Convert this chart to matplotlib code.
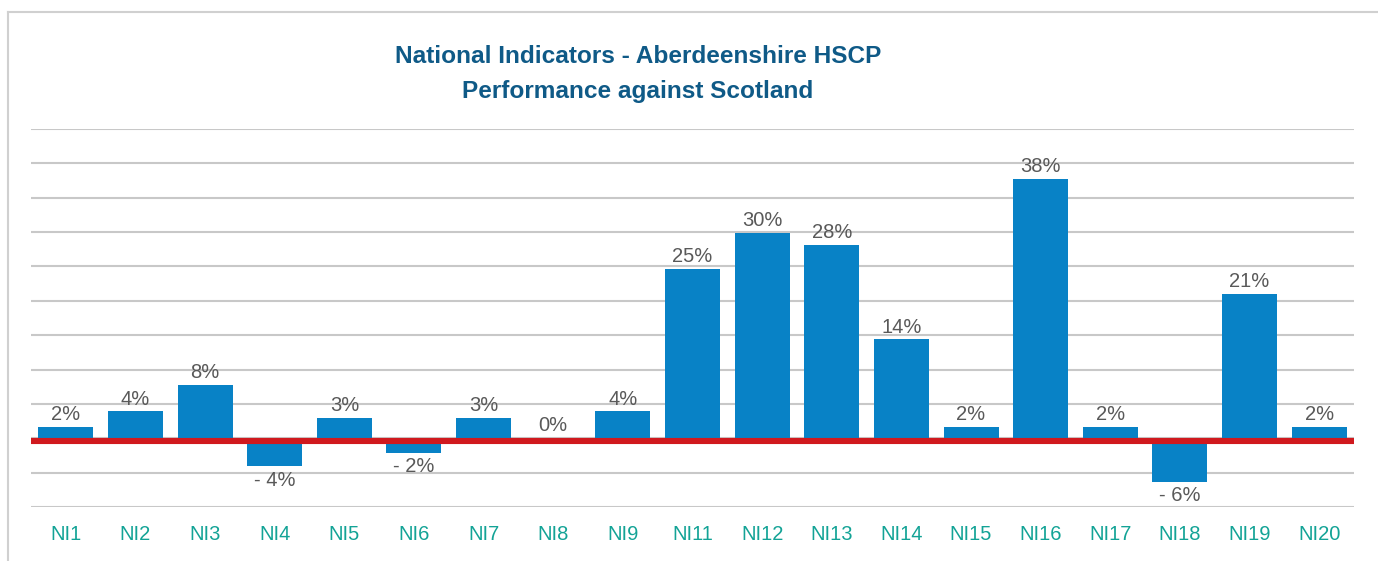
import matplotlib.pyplot as plt
import matplotlib.transforms as mtransforms
from matplotlib.lines import Line2D

plt.rcParams['font.family'] = ['Liberation Sans', 'DejaVu Sans']

categories = ['NI1', 'NI2', 'NI3', 'NI4', 'NI5', 'NI6', 'NI7', 'NI8', 'NI9', 'NI11',
              'NI12', 'NI13', 'NI14', 'NI15', 'NI16', 'NI17', 'NI18', 'NI19', 'NI20']
values = [1.7, 3.9, 7.8, -4.1, 3.0, -2.1, 3.0, 0.0, 3.9, 24.6,
          29.9, 28.1, 14.4, 1.7, 37.7, 1.7, -6.3, 21.0, 1.7]

bar_color = '#0882c6'
title_color = '#0f5a87'
tick_color = '#13a396'
label_color = '#595959'

fig = plt.figure(figsize=(13.78, 5.61), dpi=100)
ax = fig.add_axes([31 / 1378, 1 - 507 / 561, 1323 / 1378, 378 / 561])

x = range(len(categories))
bars = ax.bar(x, values, width=0.79, color=bar_color, zorder=2)

# red zero line, a little below the axis like the original
off = mtransforms.offset_copy(ax.transData, fig=fig, y=-3, units='dots')
ax.plot([-0.5, len(categories) - 0.5], [0, 0], color='#d0191e', lw=4.4,
        transform=off, zorder=3, solid_capstyle='butt')

for b, v in zip(bars, values):
    r = int(round(v))
    if r < 0:
        txt = '- %d%%' % abs(r)
        ax.annotate(txt, (b.get_x() + b.get_width() / 2, v), xytext=(0, -3),
                    textcoords='offset points', ha='center', va='top',
                    fontsize=14.5, color=label_color)
    else:
        txt = '%d%%' % r
        ax.annotate(txt, (b.get_x() + b.get_width() / 2, v), xytext=(0, 2),
                    textcoords='offset points', ha='center', va='bottom',
                    fontsize=14.5, color=label_color)

ax.set_xlim(-0.5, len(categories) - 0.5)
ax.set_ylim(-10, 45)
ax.set_yticks(range(-10, 46, 5))
ax.yaxis.grid(True, color='#c8c8c8', lw=1.5, zorder=0)
ax.set_axisbelow(True)
ax.tick_params(axis='y', left=False, labelleft=False)
ax.set_xticks(list(x))
ax.set_xticklabels(categories, fontsize=14.5, color=tick_color)
ax.tick_params(axis='x', length=0, pad=13)
for s in ax.spines.values():
    s.set_visible(False)

tx = 638 / 1378
fig.text(tx, 1 - 63 / 561, 'National Indicators - Aberdeenshire HSCP', ha='center',
         va='baseline', fontsize=17.6, fontweight='bold', color=title_color)
fig.text(tx, 1 - 98 / 561, 'Performance against Scotland', ha='center',
         va='baseline', fontsize=17.6, fontweight='bold', color=title_color)

# chart border
fig.add_artist(Line2D([8 / 1378, 8 / 1378], [0, 1 - 12 / 561], color='#d0d0d0', lw=1.5))
fig.add_artist(Line2D([8 / 1378, 1], [1 - 12 / 561, 1 - 12 / 561], color='#d0d0d0', lw=1.5))

fig.savefig('out.png', dpi=100)
